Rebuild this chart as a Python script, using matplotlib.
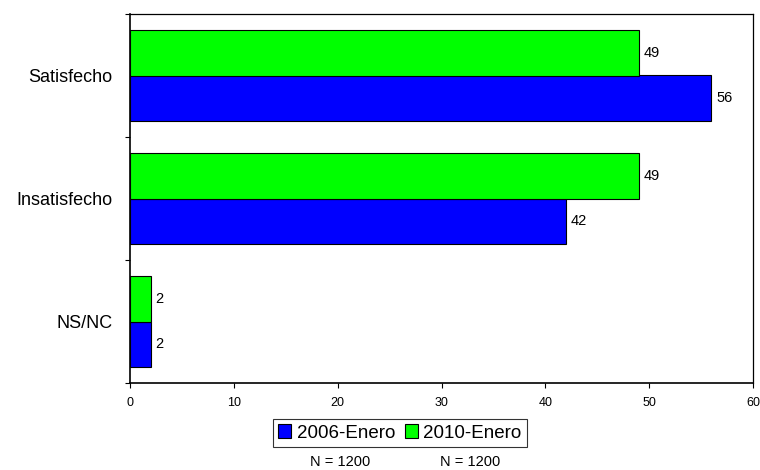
import matplotlib
matplotlib.use("Agg")
import matplotlib.pyplot as plt
import numpy as np
from matplotlib.patches import Patch

plt.rcParams['font.family'] = ['Liberation Sans', 'DejaVu Sans']

categories = ["Satisfecho", "Insatisfecho", "NS/NC"]
series_names = ["2006-Enero", "2010-Enero"]
values_2006 = [56, 42, 2]
values_2010 = [49, 49, 2]
colors = ["#0000FF", "#00FF00"]
n_labels = ["N = 1200", "N = 1200"]
xticks = [0, 10, 20, 30, 40, 50, 60]

fig = plt.figure(figsize=(7.6, 4.7), dpi=100)
ax = fig.add_axes([130/760, 1-383/470, (753-130)/760, (383-14)/470])

n = len(categories)
centers = np.arange(n)[::-1] + 0.5
h = 0.37
b1 = ax.barh(centers - h/2, values_2006, height=h, color=colors[0], edgecolor='black', linewidth=0.8)
b2 = ax.barh(centers + h/2, values_2010, height=h, color=colors[1], edgecolor='black', linewidth=0.8)

for bars, vals in ((b1, values_2006), (b2, values_2010)):
    for rect, v in zip(bars, vals):
        ax.text(v + 0.45, rect.get_y() + rect.get_height()/2, f"{v}", va='center', ha='left', fontsize=10.5)

ax.set_xlim(0, 60)
ax.set_ylim(0, n)
ax.set_xticks(xticks)
ax.set_xticklabels([str(t) for t in xticks], fontsize=9)
ax.set_yticks(np.arange(n + 1))
ax.set_yticklabels([])
ax.set_yticks(centers, minor=True)
ax.set_yticklabels(categories, minor=True, fontsize=13)
ax.tick_params(axis='y', which='minor', length=0, pad=12.5)
ax.tick_params(axis='both', which='major', length=3.5, width=0.8, direction='out')
ax.tick_params(axis='x', pad=6.5)
for s in ['left', 'bottom']:
    ax.spines[s].set_linewidth(1.2)
for s in ['top', 'right']:
    ax.spines[s].set_linewidth(0.9)

handles = [Patch(facecolor=c, edgecolor='black', linewidth=0.8) for c in colors]
leg = fig.legend(handles, series_names, loc='center', bbox_to_anchor=(400/760, 1-433/470),
                 ncol=2, frameon=True, fancybox=False, edgecolor='black', fontsize=13.5,
                 handlelength=0.7, handleheight=0.7, handletextpad=0.3, columnspacing=0.5,
                 borderpad=0.3, borderaxespad=0)
leg.get_frame().set_linewidth(0.8)

for x, t in zip([340, 470], n_labels):
    fig.text(x/760, 1-462/470, t, ha='center', va='center', fontsize=10.5)

fig.savefig("out.png", dpi=100)
